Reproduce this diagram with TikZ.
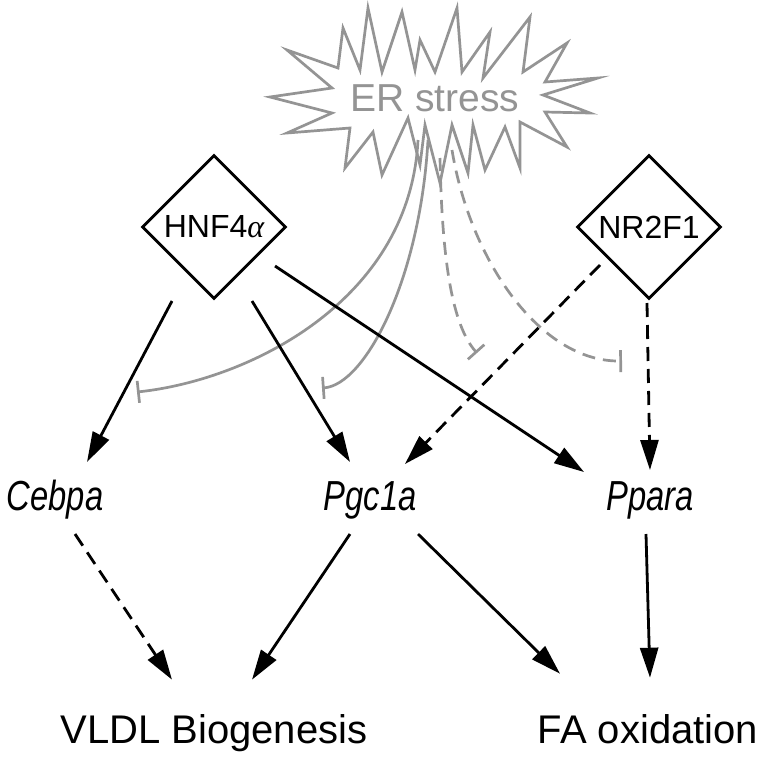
\documentclass[tikz,border=0pt]{standalone}
\usepackage{fontspec}
\setmainfont{Liberation Sans}
\newfontfamily\greekserif{Liberation Serif}
\usepackage{graphicx}
\usetikzlibrary{shapes.geometric,arrows.meta,calc}
\definecolor{stressgray}{RGB}{148,148,148}
\begin{document}
\begin{tikzpicture}[x=1pt,y=-1pt,
  blk/.style={line width=2.8pt,-{Triangle[length=30pt,width=18pt]}},
  dsh/.style={blk,dash pattern=on 14pt off 8pt},
  inh/.style={line width=2.7pt,draw=stressgray,-{Bar[width=22pt]}},
  inhd/.style={inh,dash pattern=on 13pt off 8pt},
  tf/.style={diamond,draw,line width=2.8pt,minimum size=144pt,inner sep=0pt,aspect=1,font=\fontsize{32}{38}\selectfont},
  gene/.style={font=\fontsize{42}{50}\selectfont\itshape,inner sep=0pt},
  outc/.style={font=\fontsize{40}{48}\selectfont,inner sep=0pt,anchor=base}]
\useasboundingbox[fill=white] (0,0) rectangle (768,758);

% ER stress burst
\draw[stressgray,line width=2.7pt,line join=miter,fill=white]
 (270,97) -- (332,88) -- (287,50) -- (338,68) -- (343,28) -- (360,70) -- (368,8) -- (382,72)
 -- (402,12) -- (415,70) -- (420,40) -- (435,72) -- (457,8) -- (462,72) -- (490,32) -- (483,78)
 -- (530,17) -- (523,72) -- (567,43) -- (545,82) -- (598,78) -- (543,95) -- (590,113) -- (545,112)
 -- (567,147) -- (520,122) -- (520,168) -- (505,127) -- (485,170) -- (473,125) -- (468,173)
 -- (452,125) -- (440,183) -- (425,125) -- (420,165) -- (408,118) -- (382,175) -- (373,132)
 -- (345,168) -- (350,128) -- (287,133) -- (332,113) -- cycle;
\node[text=stressgray,font=\fontsize{39}{46}\selectfont,inner sep=0pt] (er) at (435,98) {ER stress};

% nodes
\node[tf] (hnf) at (214,227) {HNF4{\greekserif\itshape α}};
\node[tf] (nr) at (649,227) {NR2F1};
\node[gene] (cebpa) at (55,500) {\scalebox{0.78}[1]{Cebpa}};
\node[gene] (pgc) at (370,500) {\scalebox{0.78}[1]{Pgc1a}};
\node[gene] (ppara) at (650,500) {\scalebox{0.78}[1]{Ppara}};
\node[outc] (vldl) at (214,743) {VLDL Biogenesis};
\node[outc] (fa) at (648,743) {FA oxidation};

% inhibitor ends
\coordinate (s1) at ($(er)+(-17,42)$);
\coordinate (s2) at ($(er)+(-7,42)$);
\coordinate (s3) at ($(er)+(5,60)$);
\coordinate (s4) at ($(er)+(17,52)$);
\coordinate (e1) at (137,392);
\coordinate (e2) at (322,388);
\coordinate (e3) at (477,353);
\coordinate (e4) at (622,361);
\draw[inh] (s1) .. controls (410,300) and (250,380) .. (e1);
\draw[inh] (s2) .. controls (420,280) and (365,385) .. (e2);
\draw[inhd] (s3) .. controls (442,260) and (452,325) .. (e3);
\draw[inhd] (s4) .. controls (470,260) and (540,362) .. (e4);

% activations
\draw[blk] ($(hnf)+(-42,74)$) -- ($(cebpa)+(32,-38)$);
\draw[blk] ($(hnf)+(38,74)$) -- ($(pgc)+(-20,-38)$);
\draw[blk] ($(hnf)+(61,39)$) -- ($(ppara)+(-66,-28)$);
\draw[dsh] ($(nr)+(-49,38)$) -- ($(pgc)+(35,-36)$);
\draw[dsh] ($(nr)+(-2,76)$) -- ($(ppara)+(0,-30)$);
\draw[dsh] ($(cebpa)+(20,34)$) -- ($(vldl)+(-42,-53)$);
\draw[blk] ($(pgc)+(-20,34)$) -- ($(vldl)+(38,-53)$);
\draw[blk] ($(pgc)+(48,34)$) -- ($(fa)+(-88,-55)$);
\draw[blk] ($(ppara)+(-4,34)$) -- ($(fa)+(2,-51)$);
\end{tikzpicture}
\end{document}
